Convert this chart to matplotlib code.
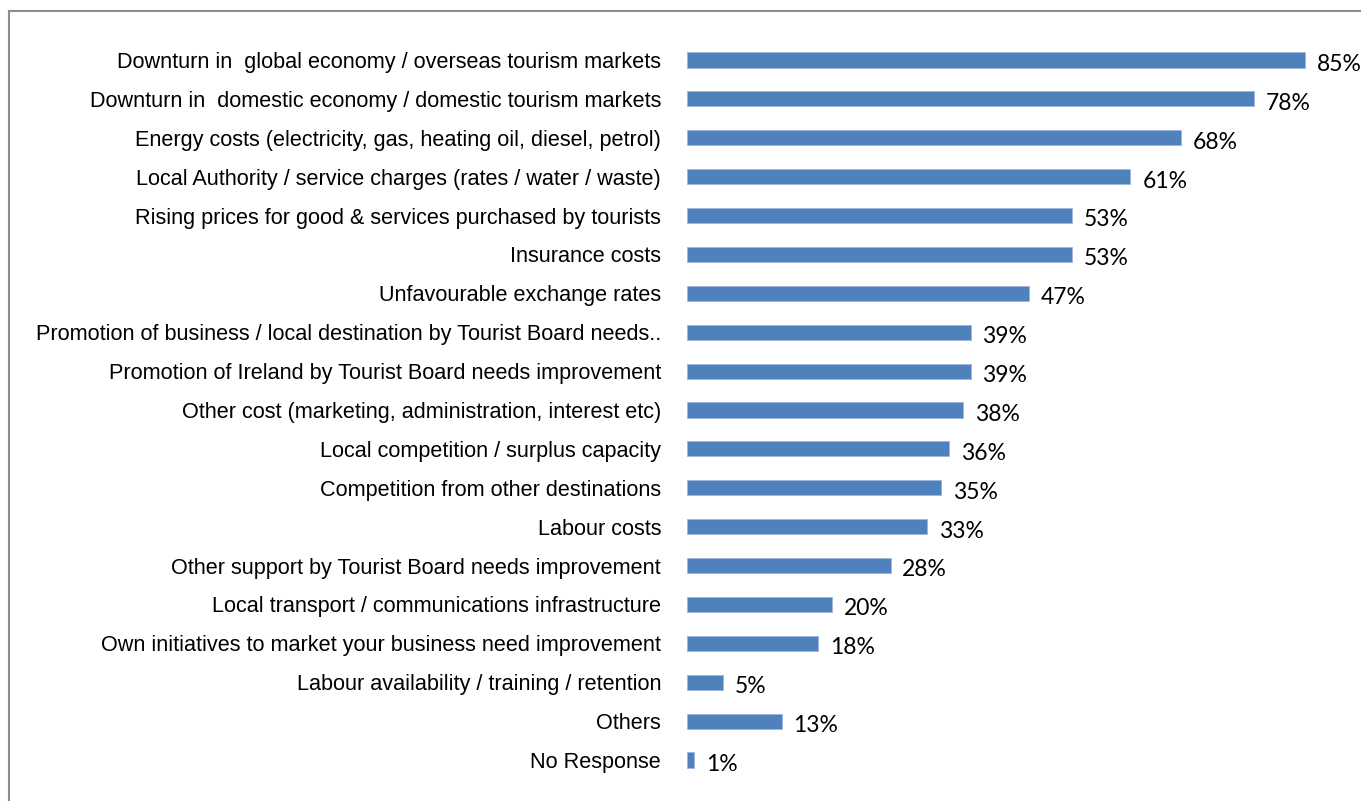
import matplotlib.pyplot as plt
from matplotlib.patches import Rectangle
from matplotlib import font_manager

# Survey responses: factors affecting business (% of respondents)
factors = [
    "Downturn in  global economy / overseas tourism markets",
    "Downturn in  domestic economy / domestic tourism markets",
    "Energy costs (electricity, gas, heating oil, diesel, petrol)",
    "Local Authority / service charges (rates / water / waste)",
    "Rising prices for good & services purchased by tourists",
    "Insurance costs",
    "Unfavourable exchange rates",
    "Promotion of business / local destination by Tourist Board needs..",
    "Promotion of Ireland by Tourist Board needs improvement",
    "Other cost (marketing, administration, interest etc)",
    "Local competition / surplus capacity",
    "Competition from other destinations",
    "Labour costs",
    "Other support by Tourist Board needs improvement",
    "Local transport / communications infrastructure",
    "Own initiatives to market your business need improvement",
    "Labour availability / training / retention",
    "Others",
    "No Response",
]
percent = [85, 78, 68, 61, 53, 53, 47, 39, 39, 38, 36, 35, 33, 28, 20, 18, 5, 13, 1]

names = {f.name for f in font_manager.fontManager.ttflist}
label_font = "Liberation Sans Narrow" if "Liberation Sans Narrow" in names else "Liberation Sans"

W, H = 1361, 801
fig = plt.figure(figsize=(W / 100, H / 100), dpi=100)

# axes placed in pixel terms: zero at x=687, rows from y=60 to y=760
xmax = 92
px_per = 7.27
row = 700 / 18
left = 687 / W
width = xmax * px_per / W
top = (60 - row / 2) / H
height = 19 * row / H
ax = fig.add_axes([left, 1 - top - height, width, height])

y = list(range(len(factors)))
ax.barh(y, percent, height=0.39, color="#4F81BD", edgecolor="#9DB6DA", linewidth=0.6)
ax.set_xlim(0, xmax)
ax.set_ylim(len(factors) - 0.5, -0.5)

ax.set_yticks(y)
ax.set_yticklabels(factors, family=label_font, fontsize=15.6, color="black")
ax.tick_params(axis="y", length=0, pad=18.7)
ax.set_xticks([])
for s in ax.spines.values():
    s.set_visible(False)

for yi, v in zip(y, percent):
    ax.annotate(f"{v}%", (v, yi), xytext=(8.5, -3.2), textcoords="offset points",
                ha="left", va="center", family="Lato", fontsize=16.5, color="black")

# outer frame, cut off at the right and bottom edges
fig.patches.append(Rectangle((9 / W, -0.1), 1.2, 1 - 11 / H + 0.1, transform=fig.transFigure,
                             fill=False, edgecolor="#8C8C8C", linewidth=1.5))

fig.savefig("out.png", dpi=100)
